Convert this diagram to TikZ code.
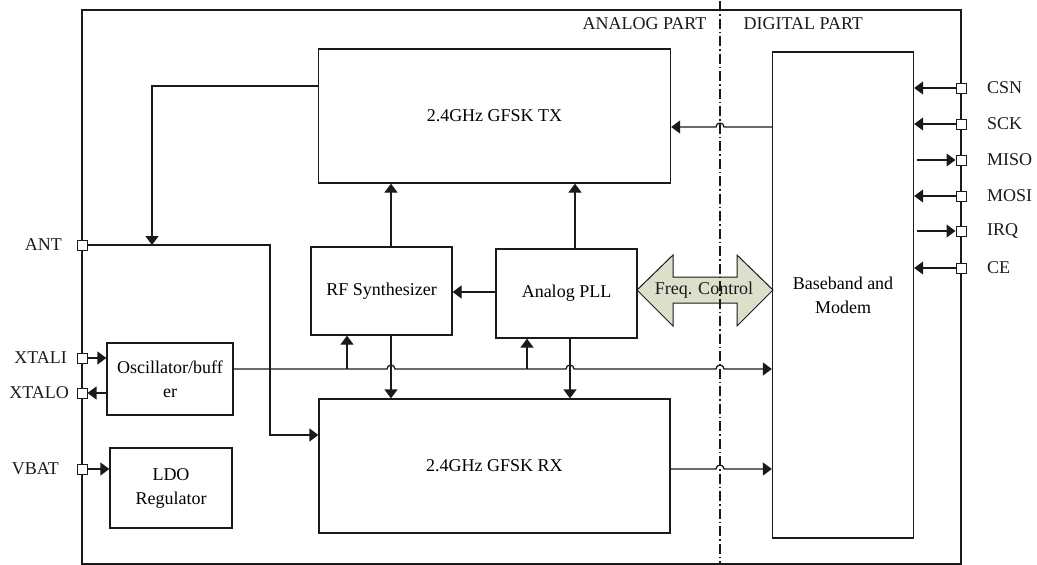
\documentclass[tikz,border=0pt]{standalone}
\usepackage{fontspec}
\setmainfont{Liberation Serif}
\usepackage{xcolor}
\usetikzlibrary{positioning,arrows.meta,calc}
\definecolor{ink}{HTML}{1A1A1A}
\definecolor{sage}{HTML}{DCDFC9}

\begin{document}
\begin{tikzpicture}[
  x=1pt,y=-1pt,
  font=\fontsize{18}{24}\selectfont,
  line width=1.3pt,
  b/.style={draw=ink,fill=white,align=center,inner sep=0pt},
  pin/.style={draw=ink,fill=white,minimum size=10pt,inner sep=0pt,line width=1pt},
  lbl/.style={inner sep=0pt,text=ink},
  a/.style={-{Triangle[length=9pt,width=13pt]},ink},
  hop/.style={start angle=180,end angle=0,radius=4pt},
  hopl/.style={start angle=0,end angle=180,radius=4pt}
]
\useasboundingbox (0,0) rectangle (1037,565);
\node[draw=ink,minimum width=879pt,minimum height=554pt] (chip) at (521.5,287) {};

% blocks
\node[b,minimum width=352pt,minimum height=134pt] (tx) at (494.5,116) {2.4GHz GFSK TX};
\node[b,minimum width=351pt,minimum height=134pt] (rx) at (494.5,466) {2.4GHz GFSK RX};
\node[b,minimum width=141pt,minimum height=88pt] (rfs) at (381.5,291) {RF Synthesizer};
\node[b,minimum width=141pt,minimum height=89pt] (pll) at (566.5,293.5) {Analog PLL};
\node[b,minimum width=141pt,minimum height=486pt] (bb) at (843,295) {Baseband and\\Modem};
\node[b,minimum width=126pt,minimum height=72pt] (osc) at (170,379) {Oscillator/buff\\er};
\node[b,minimum width=122pt,minimum height=80pt] (ldo) at (171,488) {LDO\\Regulator};

\node[lbl,anchor=east] (analog) at (707,24) {ANALOG PART};
\node[lbl,anchor=west] (digital) at (743,24) {DIGITAL PART};

% pins
\node[pin] (pant) at (82,245) {};
\node[pin] (pxi) at (82,358) {};
\node[pin] (pxo) at (82,393) {};
\node[pin] (pvb) at (82,469) {};
\node[pin] (pcsn) at (961,88) {};
\node[pin] (psck) at (961,124) {};
\node[pin] (pmiso) at (961,160) {};
\node[pin] (pmosi) at (961,196) {};
\node[pin] (pirq) at (961,231) {};
\node[pin] (pce) at (961,268) {};

\node[lbl,left=14pt of pant] {ANT};
\node[lbl,left=9pt of pxi] {XTALI};
\node[lbl,left=7pt of pxo] {XTALO};
\node[lbl,left=17pt of pvb] {VBAT};
\foreach \p/\t in {pcsn/CSN,psck/SCK,pmiso/MISO,pmosi/MOSI,pirq/IRQ,pce/CE}
  \node[lbl,right=20pt of \p] {\t};

% rf side
\draw[a] (tx.west |- 0,86) -| (pant.east -| 152,0);
\draw[a] (pant.east) -| (270,435) -- (rx.west |- 0,435);

% clock line with hops
\draw[a] (osc.east |- 0,369) -- (387,369) arc[hop] -- (566,369) arc[hop]
  -- (716,369) arc[hop] -- (bb.west |- 0,369);
\draw[a] (347,369) -- (rfs.south -| 347,0);
\draw[a] (527,369) -- (pll.south -| 527,0);

\draw[a] (rfs.north -| 391,0) -- (tx.south -| 391,0);
\draw[a] (pll.north -| 575,0) -- (tx.south -| 575,0);
\draw[a] (rfs.south -| 391,0) -- (rx.north -| 391,0);
\draw[a] (pll.south -| 570,0) -- (rx.north -| 570,0);
\draw[a] (pll.west |- 0,292) -- (rfs.east |- 0,292);

\draw[a] (bb.west |- 0,127) -- (724,127) arc[hopl] -- (tx.east |- 0,127);
\draw[a] (rx.east |- 0,469) -- (716,469) arc[hop] -- (bb.west |- 0,469);

% pin arrows
\draw[a] (pxi.east) -- (osc.west |- pxi);
\draw[a] (osc.west |- pxo) -- (pxo.east);
\draw[a] (pvb.east) -- (ldo.west |- pvb);
\foreach \p in {pcsn,psck,pmosi,pce}
  \draw[a] (\p.west) -- (bb.east |- \p);
\foreach \p in {pmiso,pirq}
  \draw[a] ([xshift=3pt]bb.east |- \p) -- (\p.west);

% freq control
\filldraw[draw=ink,fill=sage,line width=1pt] (637,290) -- (673,255) -- (673,277)
  -- (737,277) -- (737,255) -- (773,290) -- (737,326) -- (737,303)
  -- (673,303) -- (673,326) -- cycle;
\node[lbl] (fc) at (704,290) {Freq. Control};

\draw[ink,line width=1.1pt,dash pattern=on 10pt off 3pt on 1.5pt off 3pt]
  (720,1) -- (chip.south -| 720,0);
\end{tikzpicture}
\end{document}
